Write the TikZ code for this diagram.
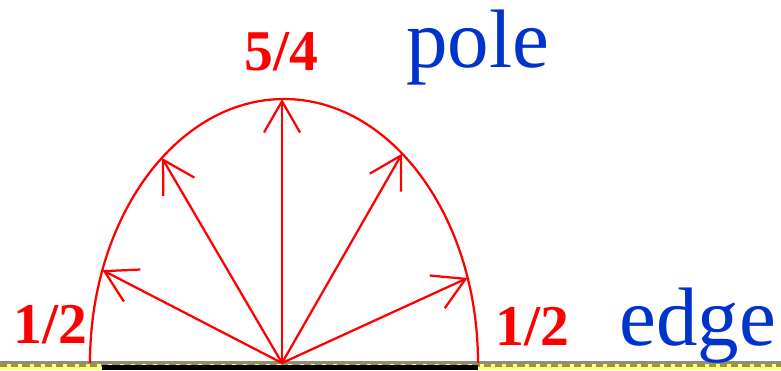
\documentclass[tikz,border=0pt]{standalone}
\usepackage{fontspec}
\setmainfont{Liberation Serif}
\usetikzlibrary{arrows.meta}

\definecolor{poleblue}{RGB}{0,51,204}
\definecolor{stripyellow}{RGB}{255,255,128}
\definecolor{stripolive}{RGB}{150,150,60}

\begin{document}
\begin{tikzpicture}[
  x=0.025cm, y=-0.025cm,
  frac/.style={text=red, font=\bfseries\fontsize{41}{46}\selectfont,
    inner sep=0pt, anchor=base west},
  word/.style={text=poleblue, font=\fontsize{59}{64}\selectfont,
    inner sep=0pt, anchor=base west},
  ray/.style={-{Straight Barb[length=0.78cm, width=0.9cm]}, red,
    line width=1.6pt},
  rim/.style={red, line width=1.6pt}
]
\useasboundingbox (0,0) rectangle (781,370);

% Ground strip
\fill[stripyellow] (0,363) rectangle (781,370);
\draw[gray!85!olive, line width=1.5pt] (0,362.5) -- (781,362.5);
\draw[stripolive, line width=1.6pt, dash pattern=on 5pt off 3pt] (0,365.5) -- (781,365.5);
\fill[black] (102,365) rectangle (478,370);

% Emission pattern
\coordinate (src) at (282,363);
\coordinate (tipA) at ({284+194*cos(159.4)},{363-264*sin(159.4)});
\coordinate (tipB) at ({284+194*cos(129)},{363-264*sin(129)});
\coordinate (tipC) at (282,99);
\coordinate (tipD) at ({284+194*cos(52.5)},{363-264*sin(52.5)});
\coordinate (tipE) at ({284+194*cos(18.8)},{363-264*sin(18.8)});

\draw[rim] (90,363) arc[start angle=180, end angle=360, x radius=194, y radius=264];

\draw[ray] (src) -- (tipA);
\draw[ray] (src) -- (tipB);
\draw[ray] (src) -- (tipC);
\draw[ray] (src) -- (tipD);
\draw[ray] (src) -- (tipE);

% Labels
\node[frac] (top) at (244,70) {5/4};
\node[frac] (left) at (13,343) {1/2};
\node[frac] (right) at (495,345) {1/2};
\node[word] (pole) at (406,67) {pole};
\node[word] (edge) at (619,345) {edge};
\end{tikzpicture}
\end{document}
